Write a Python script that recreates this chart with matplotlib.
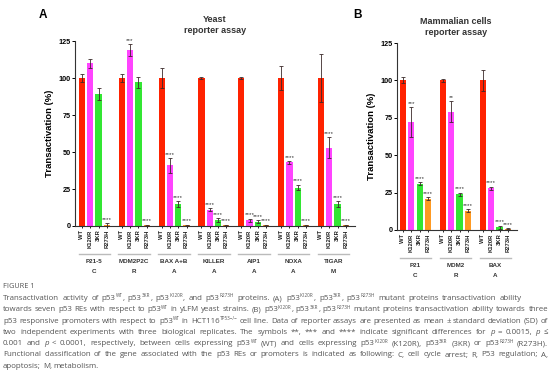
import re
import matplotlib
matplotlib.use("Agg")
import matplotlib.pyplot as plt
import matplotlib.transforms as mtransforms
import numpy as np

plt.rcParams['font.family'] = ['Liberation Sans', 'DejaVu Sans']

variants = ['WT', 'K120R', '3KR', 'R273H']
colors = ['#ff2200', '#ff44ff', '#33e633', '#ff9a22']

# panel A - yeast
yeast_genes = ['P21-5', 'MDM2P2C', 'BAX A+B', 'KILLER', 'AIP1', 'NOXA', 'TIGAR']
yeast_class = ['C', 'R', 'A', 'A', 'A', 'A', 'M']
yeast_mean = [[100, 110, 89, 1],
              [100, 119, 97, 0.5],
              [100, 41, 15, 0.5],
              [100, 11, 4, 0.5],
              [100, 4, 3, 0.5],
              [100, 43, 26, 0.5],
              [100, 53, 15, 0.5]]
yeast_sd = [[3, 3, 4, 1],
            [3, 4, 4, 0.5],
            [7, 5, 2, 0.5],
            [1, 1, 1.5, 0.5],
            [1, 1, 1, 0.5],
            [8, 1, 2, 0.5],
            [16, 7, 2, 0.5]]
yeast_sig = [['', '', '', '****'],
             ['', '***', '', '****'],
             ['', '****', '****', '****'],
             ['', '****', '****', '****'],
             ['', '****', '****', '****'],
             ['', '****', '****', '****'],
             ['', '****', '****', '****']]

# panel B - mammalian cells
mam_genes = ['P21', 'MDM2', 'BAX']
mam_class = ['C', 'R', 'A']
mam_mean = [[100, 72, 31, 21],
            [100, 79, 24, 13],
            [100, 28, 2, 1]]
mam_sd = [[2, 10, 1, 1],
          [1, 7, 1, 1],
          [7, 1, 1, 0.5]]
mam_sig = [['', '***', '****', '****'],
           ['', '**', '****', '****'],
           ['', '****', '****', '****']]

fig = plt.figure(figsize=(5.54, 3.77), dpi=100)

PITCH = 4.8
W = 0.75


def draw_panel(ax, genes, classes, means, sds, sigs, xr):
    pos, labels = [], []
    for g in range(len(genes)):
        for k in range(4):
            x = g * PITCH + k
            ax.bar(x, means[g][k], width=W, color=colors[k], edgecolor='none', zorder=2)
            ax.errorbar(x, means[g][k], yerr=sds[g][k], fmt='none', ecolor='#3a2a2a',
                        elinewidth=0.6, capsize=1.3, capthick=0.6, zorder=3)
            if sigs[g][k]:
                ax.text(x, means[g][k] + sds[g][k] + 0.8, sigs[g][k], ha='center', va='bottom',
                        fontsize=4.6, color='#333333')
            pos.append(x)
            labels.append(variants[k])
    ax.set_xticks(pos)
    ax.set_xticklabels(labels, rotation=90, fontsize=4.2, fontweight='bold', color='#222222')
    ax.tick_params(axis='x', length=1.5, width=0.6, pad=1)
    ax.set_yticks([0, 25, 50, 75, 100, 125])
    ax.tick_params(axis='y', length=2, width=0.7, pad=1, labelsize=5.2)
    for t in ax.get_yticklabels():
        t.set_fontweight('bold')
    ax.set_ylim(0, 125)
    ax.set_xlim(*xr)
    for s in ['top', 'right']:
        ax.spines[s].set_visible(False)
    for s in ['left', 'bottom']:
        ax.spines[s].set_linewidth(0.8)
        ax.spines[s].set_color('#333333')
    ax.set_ylabel('Transactivation (%)', fontsize=6.8, fontweight='bold', labelpad=3)
    trans = mtransforms.blended_transform_factory(ax.transData, ax.transAxes)
    for g in range(len(genes)):
        x0 = g * PITCH
        ax.plot([x0 - 0.4, x0 + 3.4], [-0.15, -0.15], color='#bbbbbb', lw=1.0,
                transform=trans, clip_on=False)
        ax.text(x0 + 1.5, -0.19, genes[g], transform=trans, ha='center', va='center',
                fontsize=4.5, fontweight='bold', color='#333333')
        ax.text(x0 + 1.5, -0.245, classes[g], transform=trans, ha='center', va='center',
                fontsize=4.5, fontweight='bold', color='#333333')


axA = fig.add_axes([75 / 554, 151 / 377, 280 / 554, 185 / 377])
draw_panel(axA, yeast_genes, yeast_class, yeast_mean, yeast_sd, yeast_sig, (-0.84, 32.9))
axB = fig.add_axes([397 / 554, 147 / 377, 120 / 554, 187 / 377])
draw_panel(axB, mam_genes, mam_class, mam_mean, mam_sd, mam_sig, (-0.72, 13.7))

fig.text(215 / 554, 1 - 25 / 377, 'Yeast\nreporter assay', ha='center', va='center',
         fontsize=6.5, fontweight='bold', color='#333333', linespacing=1.2)
fig.text(456 / 554, 1 - 27 / 377, 'Mammalian cells\nreporter assay', ha='center', va='center',
         fontsize=6.5, fontweight='bold', color='#333333', linespacing=1.2)
fig.text(43 / 554, 1 - 15 / 377, 'A', ha='center', va='center', fontsize=8.5, fontweight='bold')
fig.text(358 / 554, 1 - 15 / 377, 'B', ha='center', va='center', fontsize=8.5, fontweight='bold')

# caption; ^{..} = superscript, `..` = italic
cap_color = '#555555'
cap_size = 5.7
sup_size = 3.3
x_left = 3
fig.text(x_left / 554, 1 - 287 / 377, 'FIGURE 1', ha='left', va='center', fontsize=5.3,
         color=cap_color, family='Open Sans')
caption = [
    'Transactivation activity of p53^{WT}, p53^{3KR}, p53^{K120R}, and p53^{R273H} proteins. (A) p53^{K120R}, '
    'p53^{3KR}, p53^{R273H} mutant proteins transactivation ability',
    'towards seven p53 REs with respect to p53^{WT} in yLFM yeast strains. (B) p53^{K120R}, p53^{3KR}, '
    'p53^{R273H} mutant proteins transactivation ability towards three',
    'p53 responsive promoters with respect to p53^{WT} in HCT116^{TP53\u2212/\u2212} cell line. Data of reporter '
    'assays are presented as mean \u00b1 standard deviation (SD) of',
    'two independent experiments with three biological replicates. The symbols **, *** and **** indicate '
    'significant differences for `p` = 0.0015, `p` \u2264',
    '0.001 and `p` < 0.0001, respectively, between cells expressing p53^{WT} (WT) and cells expressing '
    'p53^{K120R} (K120R), p53^{3KR} (3KR) or p53^{R273H} (R273H).',
    'Functional classification of the gene associated with the p53 REs or promoters is indicated as following: '
    'C, cell cycle arrest; R, P53 regulation; A,',
    'apoptosis; M, metabolism.',
]
line_right = [522, 548, 548, 548, 548, 548, None]

renderer = fig.canvas.get_renderer()
t1 = fig.text(0, 0, 'a a', fontsize=cap_size, family='Open Sans')
t2 = fig.text(0, 0, 'aa', fontsize=cap_size, family='Open Sans')
natural_gap = t1.get_window_extent(renderer).width - t2.get_window_extent(renderer).width
t1.remove()
t2.remove()

for i, line in enumerate(caption):
    ybase = 1 - (298 + i * 11.3 + 2.0) / 377
    words = line.split(' ')
    word_parts = []
    word_widths = []
    for w in words:
        parts = []
        wsum = 0
        for seg in re.split(r'(\^\{[^}]*\}|`[^`]*`)', w):
            if not seg:
                continue
            if seg.startswith('^{'):
                t = fig.text(0, ybase + 2.6 / 377, seg[2:-1], fontsize=sup_size, va='baseline',
                             color=cap_color, family='Open Sans')
            elif seg.startswith('`'):
                t = fig.text(0, ybase, seg[1:-1], fontsize=cap_size, va='baseline', style='italic',
                             color=cap_color, family='Open Sans')
            else:
                t = fig.text(0, ybase, seg, fontsize=cap_size, va='baseline',
                             color=cap_color, family='Open Sans')
            sw = t.get_window_extent(renderer).width
            parts.append((t, sw))
            wsum += sw
        word_parts.append(parts)
        word_widths.append(wsum)
    if line_right[i] is None:
        gap = natural_gap
    else:
        gap = max(0.8, (line_right[i] - x_left - sum(word_widths)) / (len(words) - 1))
    x = x_left
    for parts, ww in zip(word_parts, word_widths):
        xx = x
        for t, sw in parts:
            t.set_x(xx / 554)
            xx += sw
        x += ww + gap

fig.savefig('out.png', dpi=100)
